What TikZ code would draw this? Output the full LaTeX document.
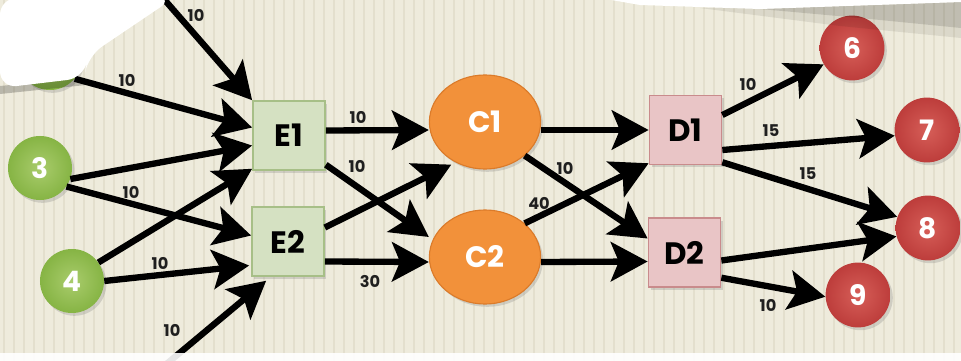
\documentclass[tikz,border=0pt]{standalone}
\usepackage{fontspec}
\setmainfont{Poppins}
\usetikzlibrary{arrows.meta,calc,shapes.geometric,shadows}

\definecolor{paper}{HTML}{EEEBDC}
\definecolor{stripe}{HTML}{E3DFCD}
\definecolor{leafgreen}{HTML}{86B444}
\definecolor{leaflight}{HTML}{A9CC6C}
\definecolor{boxgreen}{HTML}{D5E1C2}
\definecolor{boxgreenedge}{HTML}{A7BF87}
\definecolor{coreorange}{HTML}{F2913A}
\definecolor{coreedge}{HTML}{DB7B2A}
\definecolor{boxpink}{HTML}{E9C5C6}
\definecolor{boxpinkedge}{HTML}{C98B8C}
\definecolor{sinkred}{HTML}{BD3D3B}
\definecolor{sinklight}{HTML}{D65E58}

\begin{document}
\begin{tikzpicture}[x=0.025cm,y=-0.025cm,
  flow/.style={line width=4.5pt, black,
    -{Stealth[length=0.92cm,width=0.98cm,inset=0.2cm]}},
  lbl/.style={font=\bfseries\fontsize{11.5}{11.5}\selectfont, text=black!88, inner sep=0pt},
  softshadow/.style={drop shadow={opacity=0.28, shadow xshift=0.06cm, shadow yshift=-0.07cm}},
  source/.style={circle, minimum size=1.6cm, inner sep=0pt,
    inner color=leaflight, outer color=leafgreen, softshadow,
    text=white, font=\bfseries\fontsize{20}{20}\selectfont},
  stagebox/.style={rectangle, minimum width=1.8cm, minimum height=1.72cm, inner sep=0pt,
    line width=1.2pt, softshadow, font=\bfseries\fontsize{22}{22}\selectfont},
  ebox/.style={stagebox, fill=boxgreen, draw=boxgreenedge},
  dbox/.style={stagebox, fill=boxpink, draw=boxpinkedge},
  core/.style={ellipse, minimum width=2.78cm, minimum height=2.35cm, inner sep=0pt,
    fill=coreorange, draw=coreedge, line width=0.8pt, softshadow,
    text=white, font=\bfseries\fontsize{21}{21}\selectfont},
  sink/.style={circle, minimum size=1.62cm, inner sep=0pt,
    inner color=sinklight, outer color=sinkred, softshadow,
    text=white, font=\bfseries\fontsize{20}{20}\selectfont}]

\useasboundingbox (0,0) rectangle (961,361);

% striped paper
\fill[paper] (0,0) rectangle (961,361);
\foreach \x in {0,10,...,960}
  \draw[stripe, line width=1.1pt] (\x+4,0) -- (\x+4,361);

% sources
\node[source] (n2) at (50,58) {};
\node[source] (n3) at (40,168) {3};
\node[source] (n4) at (72,281) {4};

% first stage
\node[ebox] (e1) at (289,135.5) {E1};
\node[ebox] (e2) at (288,241.5) {E2};

% centres
\node[core] (c1) at (485,122) {C1};
\node[core] (c2) at (485,257) {C2};

% distribution stage
\node[dbox] (d1) at (685.5,130) {D1};
\node[dbox] (d2) at (684.5,252.5) {D2};

% sinks
\node[sink] (n6) at (852,48) {6};
\node[sink] (n7) at (927,130) {7};
\node[sink] (n8) at (928,228) {8};
\node[sink] (n9) at (858,295) {9};

% loose ends of the two outer inflows
\coordinate (inTop) at (156,-10);
\coordinate (inBot) at (164,366);

% inflows to E1 and E2
\draw[flow] (inTop) -- (e1.north west);
\draw[flow] (n2.-40) -- ($(e1.west)+(0,-8)$);
\draw[flow] (n3.-20) -- ($(e1.west)+(0,10)$);
\draw[flow] (n3.-35) -- ($(e2.west)+(0,-6)$);
\draw[flow] (n4.35) -- ($(e1.south west)+(0,-2)$);
\draw[flow] (n4.east) -- ($(e2.west)+(-2,24)$);
\draw[flow] (inBot) -- ($(e2.south west)+(15,4)$);

% E to C
\draw[flow] ($(e1.east)+(0,-5)$) -- ($(c1.west)+(0,8)$);
\draw[flow] ($(e1.south east)+(0,-6)$) -- ($(c2.west)+(0,-20)$);
\draw[flow] ($(e2.east)+(0,-14)$) -- ($(c1.south west)+(6,9)$);
\draw[flow] ($(e2.east)+(0,20)$) -- ($(c2.west)+(0,5)$);

% C to D
\draw[flow] ($(c1.east)+(0,8)$) -- (d1.west);
\draw[flow] (c1.south east) -- ($(d2.west)+(0,-14)$);
\draw[flow] (c2.north east) -- ($(d1.south west)+(0,-2)$);
\draw[flow] ($(c2.east)+(0,5)$) -- ($(d2.west)+(0,9)$);

% D to sinks
\draw[flow] ($(d1.east)+(0,-15)$) -- (n6.210);
\draw[flow] ($(d1.east)+(0,20)$) -- (n7.190);
\draw[flow] ($(d1.south east)+(0,-3)$) -- (n8.160);
\draw[flow] ($(d2.east)+(0,8)$) -- (n8.195);
\draw[flow] ($(d2.south east)+(0,-10)$) -- (n9.183);

% amounts
\node[lbl] (a1) at (196,15) {10};
\node[lbl] (a2) at (127,80) {10};
\node[lbl] (a3) at (131,192) {10};
\node[lbl] (a4) at (160,263) {10};
\node[lbl] (a5) at (172,330) {10};
\node[lbl] (a6) at (358,117) {10};
\node[lbl] (a7) at (357,166) {10};
\node[lbl] (a8) at (370,282) {30};
\node[lbl] (a9) at (565,168) {10};
\node[lbl] (a10) at (539,203) {40};
\node[lbl] (a11) at (748,84) {10};
\node[lbl] (a12) at (771,131) {15};
\node[lbl] (a13) at (808,174) {15};
\node[lbl] (a14) at (768,305) {10};

% overlapping sheets along the edges
\fill[black, opacity=0.22] (0,86) -- (82,78) -- (86,85) -- (0,94) -- cycle;
\fill[white, rounded corners=12] (0,-2) -- (174,-2) -- (88,56) -- (84,78) -- (0,88) -- cycle;
\fill[black, opacity=0.08] (700,8) -- (961,1) -- (961,38) -- (840,26) -- cycle;
\fill[black, opacity=0.12] (760,9) -- (961,2) -- (961,28) -- (860,18) -- cycle;
\fill[white] (600,-2) -- (961,-2) -- (961,2) -- (760,9) -- (640,5) -- cycle;
\fill[white, opacity=0.9] (0,353) rectangle (961,362);
\end{tikzpicture}
\end{document}
